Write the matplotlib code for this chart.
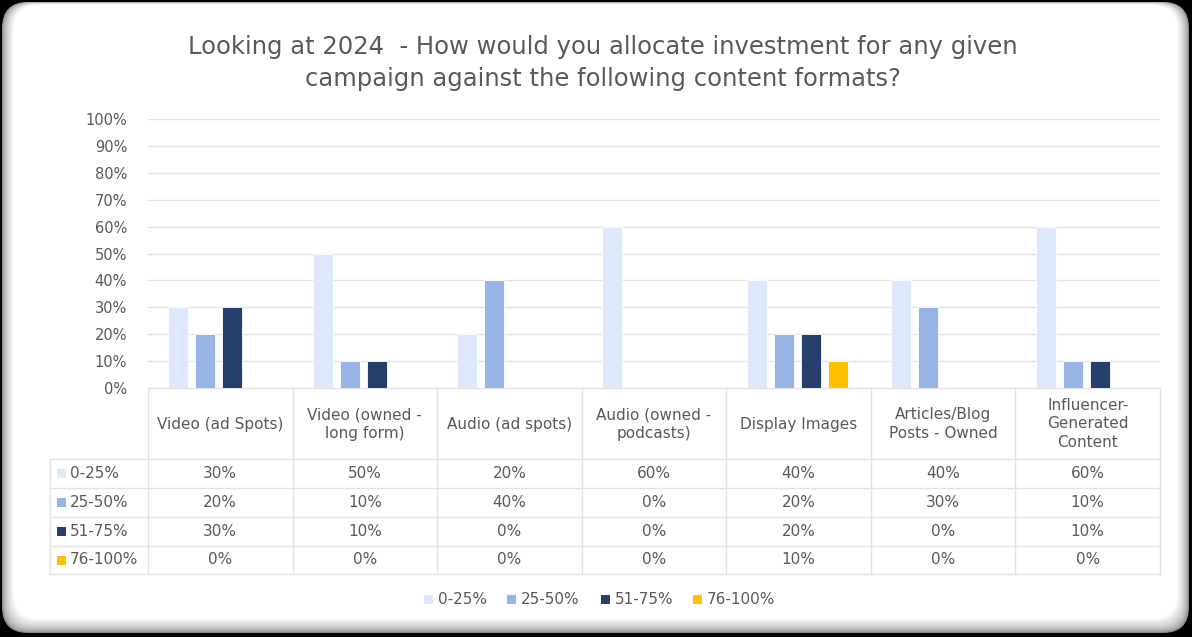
import numpy as np
import matplotlib
matplotlib.use("Agg")
import matplotlib.pyplot as plt
from matplotlib.patches import FancyBboxPatch, Rectangle
from matplotlib.transforms import blended_transform_factory
from matplotlib.colors import to_rgb

plt.rcParams['font.family'] = ['DejaVu Sans']

# ---- data -------------------------------------------------------------
categories = ["Video (ad Spots)", "Video (owned -\nlong form)", "Audio (ad spots)",
              "Audio (owned -\npodcasts)", "Display Images",
              "Articles/Blog\nPosts - Owned", "Influencer-\nGenerated\nContent"]
series_names = ["0-25%", "25-50%", "51-75%", "76-100%"]
share_0_25 = [30, 50, 20, 60, 40, 40, 60]
share_25_50 = [20, 10, 40, 0, 20, 30, 10]
share_51_75 = [30, 10, 0, 0, 20, 0, 10]
share_76_100 = [0, 0, 0, 0, 10, 0, 0]
y_ticks = [0, 10, 20, 30, 40, 50, 60, 70, 80, 90, 100]
title = ("Looking at 2024  - How would you allocate investment for any given\n"
         "campaign against the following content formats?")

series = [share_0_25, share_25_50, share_51_75, share_76_100]
colors = ["#DDE8FB", "#98B4E6", "#253E6C", "#FFC000"]
text_col = "#595959"
line_col = "#E3E3E3"

W, H = 1192, 637
fig = plt.figure(figsize=(W / 100, H / 100), dpi=100, facecolor="black")

# overlay in pixel coordinates for frame, table and legend
over = fig.add_axes([0, 0, 1, 1], zorder=0)
over.set_xlim(0, W)
over.set_ylim(H, 0)
over.axis("off")
over.set_facecolor("none")

# bevelled rounded frame
outer = np.array(to_rgb("#8a8a8a"))
inner = np.array([1.0, 1.0, 1.0])
n_layers = 14
for j in range(n_layers):
    t = (j / (n_layers - 1)) ** 0.6
    c = outer * (1 - t) + inner * t
    l = 2 + j * 0.9
    tp = 2 + j * 0.2
    r = 3 + j * 0.9
    b = 4 + j * 1.1
    over.add_patch(FancyBboxPatch((l, tp), W - l - r, H - tp - b,
                                  boxstyle="round,pad=0,rounding_size=26",
                                  fc=c, ec="none", zorder=0))

# main chart axes
left_px, right_px, top_px, bot_px = 148, 1160, 119, 388
ax = fig.add_axes([left_px / W, 1 - bot_px / H, (right_px - left_px) / W,
                   (bot_px - top_px) / H], zorder=1)
ax.set_facecolor("none")
n = len(categories)
x = np.arange(n)
step, width = 0.187, 0.138
for i, (vals, col) in enumerate(zip(series, colors)):
    ax.bar(x + (i - 1.5) * step - 0.01, vals, width=width, color=col,
           edgecolor="white", linewidth=0.6, zorder=3)
ax.set_xlim(-0.5, n - 0.5)
ax.set_ylim(0, 100)
ax.set_yticks(y_ticks)
ax.set_yticklabels([f"{v}%" for v in y_ticks])
ax.tick_params(axis="y", length=0, pad=15, labelsize=10.5, labelcolor=text_col)
ax.set_xticks([])
ax.grid(axis="y", color=line_col, linewidth=1, zorder=0)
for s in ax.spines.values():
    s.set_visible(False)

# title
over.text(603, 63, title, ha="center", va="center", fontsize=17.5,
          color=text_col, linespacing=1.45, zorder=5)

# data table below the axes
tr = blended_transform_factory(ax.transData, over.transData)
row_lines = [388, 459, 488, 517, 546, 574]
label_left = 50
for yl in row_lines:
    x0 = left_px if yl == row_lines[0] else label_left
    over.plot([x0, right_px], [yl, yl], color=line_col, lw=1, zorder=2)
over.plot([label_left, label_left], [row_lines[1], row_lines[-1]],
          color=line_col, lw=1, zorder=2)
for k in range(n + 1):
    ax_x = k - 0.5
    over.plot([ax_x, ax_x], [row_lines[0], row_lines[-1]], color=line_col,
              lw=1, zorder=2, transform=tr)

head_y = (row_lines[0] + row_lines[1]) / 2 + 0.5
for i, cat in enumerate(categories):
    over.text(i, head_y, cat, ha="center", va="center", fontsize=11,
              color=text_col, linespacing=1.3, transform=tr, zorder=5)

for r, (name, vals, col) in enumerate(zip(series_names, series, colors)):
    yc = (row_lines[r + 1] + row_lines[r + 2]) / 2
    over.add_patch(Rectangle((57, yc - 4.5), 9, 9, fc=col, ec="none", zorder=5))
    over.text(70, yc, name, ha="left", va="center", fontsize=11,
              color=text_col, zorder=5)
    for i, v in enumerate(vals):
        over.text(i, yc, f"{v}%", ha="center", va="center", fontsize=11,
                  color=text_col, transform=tr, zorder=5)

# legend
leg_y = 599
leg_x = [424, 507, 601, 693]
for name, col, lx in zip(series_names, colors, leg_x):
    over.add_patch(Rectangle((lx, leg_y - 4.5), 9, 9, fc=col, ec="none", zorder=5))
    over.text(lx + 14, leg_y, name, ha="left", va="center", fontsize=11,
              color=text_col, zorder=5)

fig.savefig("out.png", dpi=100, facecolor="black")
